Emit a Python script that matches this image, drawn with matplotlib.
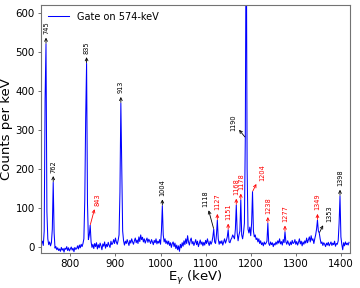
import numpy as np
import matplotlib.pyplot as plt

# gated spectrum, 2 keV bins starting at 736 keV
energy = np.arange(736, 1420, 2)
counts = np.array([
    8, 14, 3, 40, 380, 520, 90, 20, 5, 12,
    2, 10, 45, 165, 35, -4, 0, -8, -3, -10,
    -6, -12, -2, -9, -5, -14, -4, -7, 0, -10,
    -3, -11, -6, -1, -9, -4, -13, -2, -7, -5,
    2, -6, 4, -3, 6, 0, 8, 20, 120, 330,
    470, 110, 18, 30, 55, 12, -2, 6, -5, 8,
    0, 10, -6, 5, -3, 9, 2, -8, 7, 1,
    12, -4, 6, 0, 11, 3, -2, 14, 5, 9,
    18, 8, 22, 12, 6, 16, 30, 140, 368, 200,
    40, 15, 4, 14, 8, 18, 10, 3, 16, 9,
    20, 12, 6, 15, 22, 10, 17, 8, 25, 13,
    30, 18, 24, 12, 20, 9, 16, 22, 11, 19,
    14, 8, 18, 12, 5, 16, 10, 20, 7, 14,
    9, 18, 6, 40, 105, 30, 12, 20, 8, 15,
    6, 14, 3, 10, -2, 8, 12, 0, 9, -5,
    4, -8, 2, -12, 6, -3, 10, 1, 15, 5,
    20, 8, 28, 12, 4, 16, 22, 7, 13, 3,
    10, 18, 5, 14, 0, 9, 17, 6, 12, 2,
    11, 4, 16, 8, 20, 10, 3, 14, 6, 12,
    25, 45, 12, 8, 30, 68, 20, 6, 14, 8,
    15, 4, 12, 20, 9, 16, 25, 43, 12, 10,
    18, 22, 30, 25, 20, 45, 107, 35, 15, 30,
    40, 120, 30, 20, 35, 60, 280, 900, 200, 45,
    35, 50, 28, 60, 141, 40, 25, 30, 18, 22,
    12, 20, 8, 15, 5, 10, 2, 12, 6, 9,
    14, 60, 8, 3, 12, 5, 10, 0, 8, 4,
    12, 6, 15, 9, 20, 7, 13, 4, 18, 10,
    38, 12, 6, 15, 8, 3, 12, 5, 16, 8,
    10, 18, 6, 13, 4, 11, 20, 7, 14, 2,
    12, 6, 15, 9, 22, 10, 18, 25, 12, 28,
    16, 20, 8, 20, 30, 45, 68, 40, 35, 20,
    8, 12, 3, 10, 6, 0, 9, 4, 11, 2,
    7, 12, 3, 9, 5, 14, 1, 8, 6, 15,
    60, 130, 25, 6, -8, 10, 2, 12, 5, 9,
    4, 11,
])

labels = ["745", "762", "835", "843", "913", "1004", "1118", "1127", "1151",
          "1168", "1178", "1190", "1204", "1238", "1277", "1349", "1353", "1398"]
# energy of the bin each arrow points at
label_bins = [746, 762, 836, 844, 912, 1004, 1118, 1126, 1150,
              1168, 1178, 1188, 1204, 1238, 1276, 1348, 1352, 1398]
new_lines = ["843", "1127", "1151", "1168", "1178", "1204", "1238", "1277", "1349"]
# text offsets in points (default is straight up)
offsets = {"843": (5, 14), "1118": (-6, 16), "1190": (-9, 5),
           "1204": (7, 8), "1353": (7, 8)}

fig = plt.figure(figsize=(3.6, 2.88), dpi=100)
ax = fig.add_axes([0.114, 0.122, 0.858, 0.861])
ax.plot(energy, counts, color='blue', lw=0.75, label='Gate on 574-keV')

for lab, eb in zip(labels, label_bins):
    c = 'red' if lab in new_lines else 'black'
    y = counts[energy == eb][0]
    dx, dy = offsets.get(lab, (0, 7))
    ax.annotate(lab, xy=(eb, y), xytext=(dx, dy), textcoords='offset points',
                rotation=90, ha='center', va='bottom', fontsize=4.8, color=c,
                arrowprops=dict(arrowstyle='<-', color=c, lw=0.6,
                                shrinkA=0.5, shrinkB=0.5, mutation_scale=5))

ax.set_xlim(735, 1420)
ax.set_ylim(-16, 620)
ax.set_xticks(range(800, 1401, 100))
ax.set_yticks(range(0, 601, 100))
ax.tick_params(labelsize=7.4, length=2.5, width=0.6, color='0.35', pad=2)
for s in ax.spines.values():
    s.set_color('0.45')
    s.set_linewidth(0.8)
ax.set_xlabel(r'E$_\gamma$ (keV)', fontsize=9.5, labelpad=0)
ax.set_ylabel('Counts per keV', fontsize=9.5, labelpad=2)
ax.legend(loc='upper left', fontsize=7, frameon=False, handlelength=2.2,
          borderaxespad=0.3)
fig.savefig('out.png', dpi=100)
